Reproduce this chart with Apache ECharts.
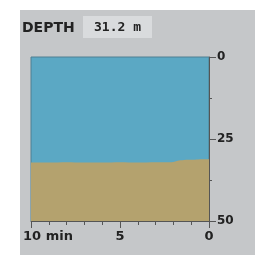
<!DOCTYPE html>
<html>
<head>
<meta charset="utf-8">
<script src="https://cdn.jsdelivr.net/npm/echarts@6/dist/echarts.min.js"></script>
<style>
  html, body { margin: 0; padding: 0; background: #ffffff; }
  #chart { width: 271px; height: 255px; }
</style>
</head>
<body>
<div id="chart"></div>
<script>
    'use strict';

    // minutes ago (10 -> 0) and seabed depth in metres
    var minutesAgo = [10, 9, 8, 7, 6, 5, 4, 3, 2.5, 2, 1.6, 1.2, 0.8, 0.4, 0];
    var seabedDepth = [32.2, 32.2, 32.1, 32.2, 32.2, 32.1, 32.2, 32.1, 32.1, 32.0, 31.5, 31.3, 31.3, 31.2, 31.2];
    var depthTicks = [0, 25, 50];
    var timeLabels = { 10: '10 min', 5: '5', 0: '0' };
    var currentDepth = '31.2 m';

    var font = 'DejaVu Sans';
    var myChart = echarts.init(document.getElementById('chart'));

    var option = {
        backgroundColor: '#ffffff',
        animation: false,
        graphic: [
            { type: 'rect', shape: { x: 20, y: 10, width: 235, height: 245 }, style: { fill: '#c5c7c9' }, z: -10 },
            { type: 'rect', shape: { x: 83, y: 16, width: 69, height: 22 }, style: { fill: '#d9dbdd' }, z: -5 },
            { type: 'text', left: 22, top: 21, style: { text: 'DEPTH', font: 'bold 14px "DejaVu Sans"', fill: '#222' } },
            { type: 'text', left: 94, top: 21, style: { text: currentDepth, font: 'bold 13px "DejaVu Sans Mono"', fill: '#222' } }
        ],
        grid: {
            left: 31, right: 62, top: 57, bottom: 34,
            show: true,
            backgroundColor: '#5ba8c4',
            borderColor: '#4f7f91',
            borderWidth: 1
        },
        xAxis: {
            type: 'value',
            min: 0, max: 10, interval: 5,
            inverse: true,
            axisLine: { show: true, onZero: false, lineStyle: { color: '#555', width: 1 } },
            axisTick: { show: true, length: 7, lineStyle: { color: '#555' } },
            minorTick: { show: true, splitNumber: 5, length: 4, lineStyle: { color: '#555' } },
            splitLine: { show: false },
            axisLabel: {
                margin: 9,
                color: '#222',
                fontFamily: font,
                fontWeight: 'bold',
                fontSize: 13,
                formatter: function (v) {
                    if (v === 10) { return '{p|}10 min'; }
                    return timeLabels[v] || '';
                },
                rich: { p: { width: 34 } }
            }
        },
        yAxis: {
            type: 'value',
            position: 'right',
            min: 0, max: 50, interval: 25,
            inverse: true,
            axisLine: { show: true, lineStyle: { color: '#555', width: 1 } },
            axisTick: { show: true, length: 7, lineStyle: { color: '#555' } },
            minorTick: { show: true, splitNumber: 2, length: 3, lineStyle: { color: '#555' } },
            splitLine: { show: false },
            axisLabel: {
                margin: 8,
                color: '#222',
                fontFamily: font,
                fontWeight: 'bold',
                fontSize: 12,
                formatter: function (v) { return depthTicks.indexOf(v) >= 0 ? String(v) : ''; }
            }
        },
        series: [
            {
                type: 'line',
                data: minutesAgo.map(function (t, i) { return [t, seabedDepth[i]]; }),
                smooth: 0.3,
                symbol: 'none',
                lineStyle: { width: 0 },
                areaStyle: { color: '#b4a26e', opacity: 1, origin: 'end' }
            }
        ]
    };

    myChart.setOption(option);
</script>
</body>
</html>
